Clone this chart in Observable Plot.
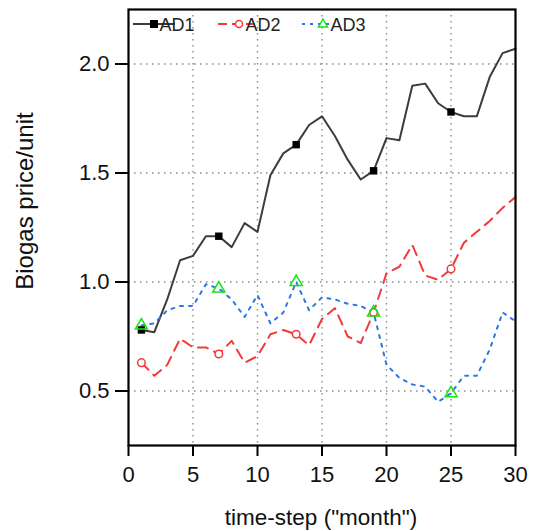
<!DOCTYPE html>
<html><head><meta charset="utf-8">
<script src="https://cdn.jsdelivr.net/npm/d3@7"></script>
<script src="https://cdn.jsdelivr.net/npm/@observablehq/plot@0.6"></script>
<style>
body{margin:0;background:#fff;}
#chart{position:relative;width:534px;height:531px;}
#chart svg{font-family:"Liberation Sans",Arial,sans-serif;}
</style>
</head><body><div id="chart"></div>
<script>
const months = [1,2,3,4,5,6,7,8,9,10,11,12,13,14,15,16,17,18,19,20,21,22,23,24,25,26,27,28,29,30];
const ad1 = [0.78,0.77,0.92,1.10,1.12,1.21,1.21,1.16,1.27,1.23,1.49,1.59,1.63,1.72,1.76,1.67,1.56,1.47,1.51,1.66,1.65,1.90,1.91,1.82,1.78,1.76,1.76,1.94,2.05,2.07];
const ad2 = [0.63,0.57,0.62,0.74,0.70,0.70,0.67,0.73,0.63,0.66,0.76,0.78,0.76,0.71,0.83,0.88,0.75,0.72,0.86,1.04,1.07,1.17,1.03,1.01,1.06,1.18,1.23,1.28,1.34,1.39];
const ad3 = [0.80,0.81,0.87,0.89,0.89,0.99,0.97,0.92,0.84,0.94,0.81,0.86,1.00,0.87,0.93,0.92,0.90,0.89,0.86,0.62,0.56,0.53,0.52,0.45,0.49,0.57,0.57,0.69,0.86,0.82];
const markerMonths = [1,7,13,19,25];
const seriesNames = ["AD1","AD2","AD3"];
const xTicks = [0,5,10,15,20,25,30];
const yTicks = [0.5,1.0,1.5,2.0];
const xLabel = 'time-step ("month")';
const yLabel = "Biogas price/unit";

const rows = (vals) => months.map((t,i)=>({t, v: vals[i]}));
const d1 = rows(ad1), d2 = rows(ad2), d3r = rows(ad3);
const mk = (d) => d.filter(r => markerMonths.includes(r.t));

const cAD1 = "#3c3c3c", cAD2 = "#f23a3a", cAD3 = "#2a78e4", cTri = "#14e614";
const gridStyle = {stroke:"#8a8a8a", strokeOpacity:1, strokeWidth:1.4, strokeDasharray:"1.5,4.5"};

const plot = Plot.plot({
  width:534, height:531,
  marginLeft:128, marginRight:19, marginTop:9, marginBottom:86,
  style:{fontFamily:"'Liberation Sans',Arial,sans-serif", fontSize:"22px", color:"#111", background:"#fff"},
  x:{domain:[0,30]},
  y:{domain:[0.25,2.25]},
  marks:[
    Plot.gridX(xTicks.slice(1,-1), gridStyle),
    Plot.gridY(yTicks, gridStyle),
    Plot.line(d1,{x:"t",y:"v",stroke:cAD1,strokeWidth:2}),
    Plot.line(d2,{x:"t",y:"v",stroke:cAD2,strokeWidth:2,strokeDasharray:"10,7"}),
    Plot.line(d3r,{x:"t",y:"v",stroke:cAD3,strokeWidth:2,strokeDasharray:"3,6"}),
    Plot.dot(mk(d1),{x:"t",y:"v",symbol:"square",fill:"#000",r:4.2}),
    Plot.dot(mk(d2),{x:"t",y:"v",symbol:"circle",stroke:cAD2,fill:"#fff",r:3.8,strokeWidth:1.5}),
    Plot.dot(mk(d3r),{x:"t",y:"v",symbol:"triangle",stroke:cTri,fill:"none",r:4.5,strokeWidth:1.5}),
    Plot.frame({stroke:"#000",strokeWidth:2.2}),
    Plot.axisX(xTicks,{tickSize:11,tickPadding:10,fontSize:22,stroke:"#000",strokeWidth:2,label:null}),
    Plot.axisY(yTicks,{tickSize:13,tickPadding:6,fontSize:22,stroke:"#000",strokeWidth:2,label:null,tickFormat:d3.format(".1f")})
  ]
});
document.getElementById("chart").appendChild(plot);

const svg = d3.select(plot);
// axis titles
svg.append("text").attr("x",321).attr("y",525).attr("text-anchor","middle")
  .attr("font-size",22.5).attr("fill","#111").text(xLabel);
svg.append("text").attr("transform","translate(33,201) rotate(-90)").attr("text-anchor","middle")
  .attr("font-size",24).attr("fill","#111").text(yLabel);

// legend
const lg = svg.append("g").attr("font-size",18).attr("fill","#222");
const legendItems = [
  {name:seriesNames[0], x0:133, x1:175, cx:154, tx:177, stroke:cAD1, dash:null, sym:"square"},
  {name:seriesNames[1], x0:218, x1:254, cx:239, tx:263, stroke:cAD2, dash:"9,5", sym:"circle"},
  {name:seriesNames[2], x0:302, x1:334, cx:323, tx:348, stroke:cAD3, dash:"3,5", sym:"triangle"}
];
const ly = 24;
legendItems.forEach(it=>{
  lg.append("line").attr("x1",it.x0).attr("x2",it.x1).attr("y1",ly).attr("y2",ly)
    .attr("stroke",it.stroke).attr("stroke-width",2).attr("stroke-dasharray",it.dash);
  const cx=it.cx;
  if(it.sym==="square") lg.append("rect").attr("x",cx-4).attr("y",ly-4).attr("width",8).attr("height",8).attr("fill","#000");
  if(it.sym==="circle") lg.append("circle").attr("cx",cx).attr("cy",ly).attr("r",3.5).attr("fill","#fff").attr("stroke",cAD2).attr("stroke-width",1.5);
  if(it.sym==="triangle") lg.append("path").attr("d",`M${cx},${ly-5}L${cx+4.5},${ly+3}L${cx-4.5},${ly+3}Z`).attr("fill","#fff").attr("stroke",cTri).attr("stroke-width",1.5);
  lg.append("text").attr("x",it.tx).attr("y",ly+6.7).text(it.name);
});
</script></body></html>
